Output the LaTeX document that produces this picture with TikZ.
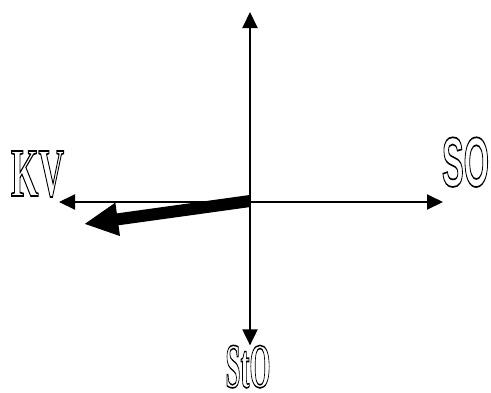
\documentclass[tikz,border=0pt]{standalone}
\usepackage{fontspec}
\setmainfont{Liberation Serif}
\newfontfamily\sansfnt{Liberation Sans}
\usepackage{graphicx}
\usetikzlibrary{arrows.meta,positioning}
% outlined (stroked) letters, scaled to a given width and height
\newcommand{\outltxt}[3]{\resizebox{#1}{#2}{\special{pdf:literal direct 1 Tr 1.5 w}\fontsize{62}{62}\selectfont\bfseries #3\special{pdf:literal direct 0 Tr}}}

\begin{document}
\begin{tikzpicture}[
    x=1pt, y=-1pt,
    axis/.style={line width=2pt, -{Triangle[length=16pt,width=15pt]}},
    vec/.style={line width=12pt, -{Triangle[length=34pt,width=31pt]}},
    lbl/.style={inner sep=0pt, outer sep=0pt}
]
\useasboundingbox (0,0) rectangle (491,392);
% Origin and axis ends
\coordinate (o) at (250,202);
\coordinate (top) at (250,12);
\coordinate (w) at (59,202);
\coordinate (e) at (443,202);
% Labels
\node[lbl, anchor=south west] (kv) at (11,197) {\outltxt{53pt}{45pt}{KV}};
\node[lbl, anchor=south west] (so) at (442,187) {\outltxt{47pt}{49pt}{\sansfnt SO}};
\node[lbl, anchor=south] (sto) at (248,388) {\outltxt{45pt}{42pt}{StO}};
% Axes
\draw[axis] (o) -- (top);
\draw[axis] (o) -- (o |- sto.north);
\draw[axis] (o) -- (w);
\draw[axis] (o) -- (e);
% Thick vector
\coordinate (vs) at (250,201);
\coordinate (vt) at (84,224);
\draw[vec] (vs) -- (vt);
\end{tikzpicture}
\end{document}
